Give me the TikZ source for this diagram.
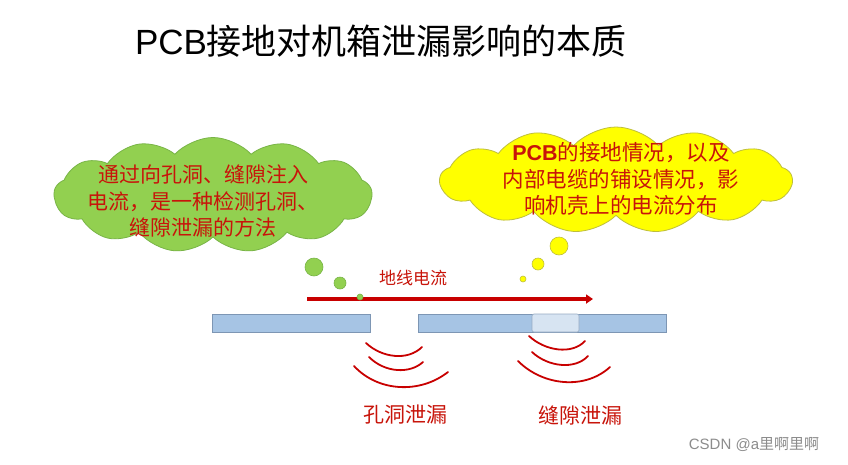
\documentclass[tikz,border=0pt]{standalone}
\usepackage{fontspec}
\setmainfont{Liberation Sans}
\newfontfamily\cjk{Noto Sans CJK SC}
\usetikzlibrary{shapes.symbols,arrows.meta}
\definecolor{txtred}{RGB}{200,20,10}
\definecolor{arrred}{RGB}{200,0,0}
\definecolor{gfill}{RGB}{146,208,80}
\definecolor{gline}{RGB}{120,180,70}
\definecolor{yfill}{RGB}{255,255,0}
\definecolor{yline}{RGB}{190,190,60}
\definecolor{barfill}{RGB}{166,196,228}
\definecolor{barline}{RGB}{125,150,180}
\definecolor{patch}{RGB}{215,228,242}
\tikzset{
  gcloud/.style={cloud, cloud puffs=13, cloud puff arc=95, aspect=2.8, fill=gfill, draw=gline, line width=0.8pt, inner sep=0pt},
  ycloud/.style={cloud, cloud puffs=13, cloud puff arc=95, aspect=3.3, fill=yfill, draw=yline, line width=0.8pt, inner sep=0pt},
  ctext/.style={text=txtred, align=center, font=\cjk\fontsize{21}{26.5}\selectfont},
  gbub/.style={circle, fill=gfill, draw=gline, line width=0.6pt, inner sep=0pt},
  ybub/.style={circle, fill=yfill, draw=yline, line width=0.6pt, inner sep=0pt},
  bar/.style={rectangle, fill=barfill, draw=barline, line width=0.6pt, inner sep=0pt, minimum height=18pt},
  wave/.style={draw=arrred, line width=1.8pt, line cap=round},
  lbl/.style={text=txtred, font=\cjk\fontsize{21}{24}\selectfont}
}
\begin{document}
\begin{tikzpicture}[x=1pt,y=-1pt]
\useasboundingbox[fill=white] (0,0) rectangle (848,464);
% title
\node (title) at (381,41) {\fontsize{35}{40}\selectfont PCB{\cjk 接地对机箱泄漏影响的本质}};
% clouds
\node[gcloud, minimum width=318pt, minimum height=115pt] (gc) at (213,195) {};
\node[ctext] (gt) at (203,201) {通过向孔洞、缝隙注入\\电流，是一种检测孔洞、\\缝隙泄漏的方法};
\node[ycloud, minimum width=352pt, minimum height=106pt] (yc) at (616,180) {};
\node[ctext, font=\cjk\fontsize{21.5}{26.5}\selectfont] (yt) at (621,179) {{\fontspec{Liberation Sans}\bfseries PCB}的接地情况，以及\\内部电缆的铺设情况，影\\响机壳上的电流分布};
% bubbles
\node[gbub, minimum size=18pt] (g1) at (314,267) {};
\node[gbub, minimum size=12pt] (g2) at (340,283) {};
\node[ybub, minimum size=18pt] (y1) at (559,246) {};
\node[ybub, minimum size=12pt] (y2) at (538,264) {};
\node[ybub, minimum size=6pt] (y3) at (523,279) {};
% current arrow
\coordinate (as) at (307,299);
\coordinate (ae) at (593,299);
\draw[arrred, line width=4pt, -{Triangle[length=7pt,width=9pt]}] (as) -- (ae);
\node[lbl, font=\cjk\fontsize{17}{20}\selectfont] (cur) at (413,278) {地线电流};
\node[gbub, minimum size=6pt] (g3) at (360,297) {};
% bars
\node[bar, minimum width=158pt] (lb) at (291,323) {};
\node[bar, minimum width=248pt] (rb) at (542,323) {};
\node[rectangle, rounded corners=2pt, fill=patch, draw=barline!80, line width=0.6pt, minimum width=47pt, minimum height=18pt, inner sep=0pt] (pt) at (555.5,323) {};
% waves left
\draw[wave] (366,343) .. controls (382,358) and (408,361) .. (422,347);
\draw[wave] (369,357) .. controls (385,373) and (410,374) .. (423,362);
\draw[wave] (354,366) .. controls (378,392) and (420,394) .. (448,372);
% waves right
\draw[wave] (529,336) .. controls (545,351) and (572,355) .. (585,341);
\draw[wave] (532,352) .. controls (548,367) and (575,370) .. (588,356);
\draw[wave] (518,361) .. controls (543,386) and (585,390) .. (610,367);
% labels
\node[lbl] (hole) at (405,415) {孔洞泄漏};
\node[lbl] (gap) at (580,415) {缝隙泄漏};
% watermark
\node[text=black!45, font=\cjk\fontsize{15}{17}\selectfont] (wm) at (754,444) {\fontspec{Liberation Sans}CSDN @a{\cjk 里啊里啊}};
\end{tikzpicture}
\end{document}
